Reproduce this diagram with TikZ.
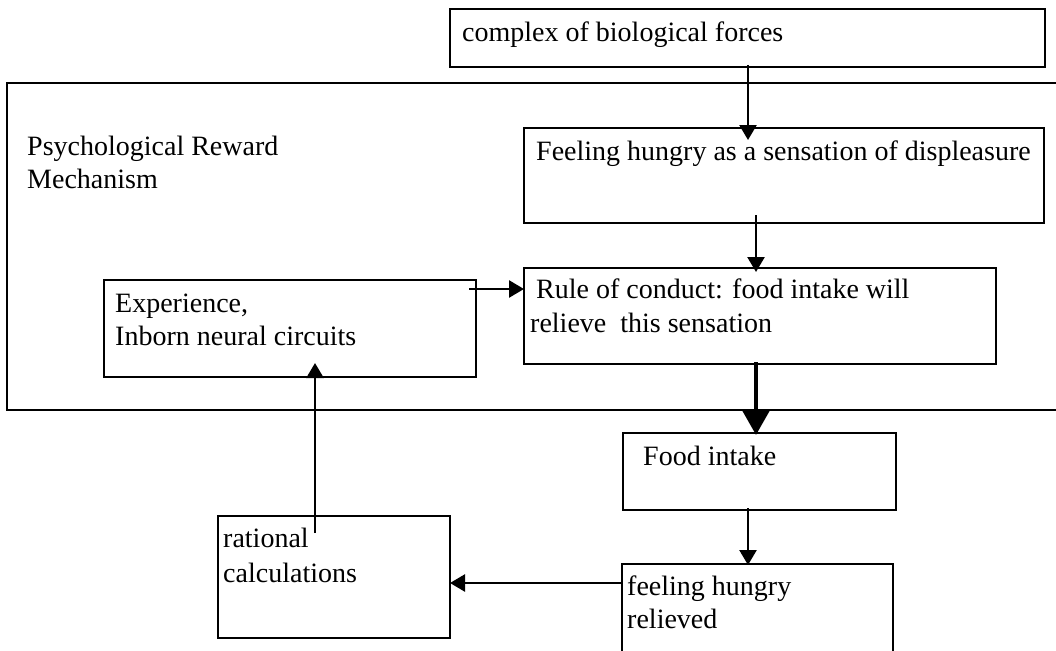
\documentclass[tikz,border=0pt]{standalone}
\usepackage{fontspec}
\setmainfont{Liberation Serif}
\usetikzlibrary{arrows.meta,calc}
\begin{document}
\begin{tikzpicture}[x=1pt,y=-1pt,
  box/.style={draw,line width=2.5pt,anchor=north west,inner sep=0pt,outer sep=0pt},
  txt/.style={anchor=base west,inner sep=0pt,font=\fontsize{28}{33}\selectfont},
  arr/.style={line width=2.5pt,-{Triangle[length=15pt,width=17pt]}},
  thickarr/.style={line width=4.5pt,-{Triangle[length=25pt,width=27pt]}}]
\useasboundingbox (0,0) rectangle (1056,650);
\fill[white] (0,0) rectangle (1056,650);
% boxes
\node[box,minimum width=595pt,minimum height=58pt] (top) at (450,9) {};
\node[box,minimum width=1060pt,minimum height=327pt] (big) at (7,83) {};
\node[box,minimum width=520pt,minimum height=95pt] (feel) at (524,128) {};
\node[box,minimum width=472pt,minimum height=96pt] (rule) at (524,268) {};
\node[box,minimum width=372pt,minimum height=97pt] (exp) at (104,280) {};
\node[box,minimum width=273pt,minimum height=77pt] (food) at (623,433) {};
\node[box,minimum width=271pt,minimum height=110pt] (reliev) at (622,564) {};
\node[box,minimum width=232pt,minimum height=122pt] (rat) at (218,516) {};
% texts
\node[txt] (tTop) at (462,42) {complex of biological forces};
\node[txt] (tPsy1) at (27,155) {Psychological Reward};
\node[txt] (tPsy2) at (27,188) {Mechanism};
\node[txt] (tFeel) at (536,160) {Feeling hungry as a sensation of displeasure};
\node[txt] (tRule1) at (536,298) {Rule of conduct: food intake will};
\node[txt] (tRule2) at (530,332) {relieve\ \ this sensation};
\node[txt] (tExp1) at (115,312) {Experience,};
\node[txt] (tExp2) at (115,345) {Inborn neural circuits};
\node[txt] (tFood) at (643,465) {Food intake};
\node[txt] (tRel1) at (627,595) {feeling hungry};
\node[txt] (tRel2) at (627,628) {relieved};
\node[txt] (tRat1) at (223,547) {rational};
\node[txt] (tRat2) at (223,582) {calculations};
% connectors
\draw[arr] ($(top.south west)+(298,-2)$) -- ($(feel.north west)+(224,12)$);
\draw[arr] ($(feel.south west)+(232,-8)$) -- ($(rule.north west)+(232,4)$);
\draw[arr] ($(exp.north east)+(-7,9)$) -- ($(rule.north west)+(0,21)$);
\draw[thickarr] ($(rule.south west)+(232,-2)$) -- ($(food.north west)+(133,2)$);
\draw[arr] ($(food.south west)+(125,-2)$) -- ($(reliev.north west)+(126,1)$);
\draw[arr] ($(reliev.north west)+(0,19)$) -- ($(rat.north east)+(0,67)$);
\draw[arr] ($(rat.north west)+(97,17)$) -- ($(exp.south west)+(211,-14)$);
\end{tikzpicture}
\end{document}
